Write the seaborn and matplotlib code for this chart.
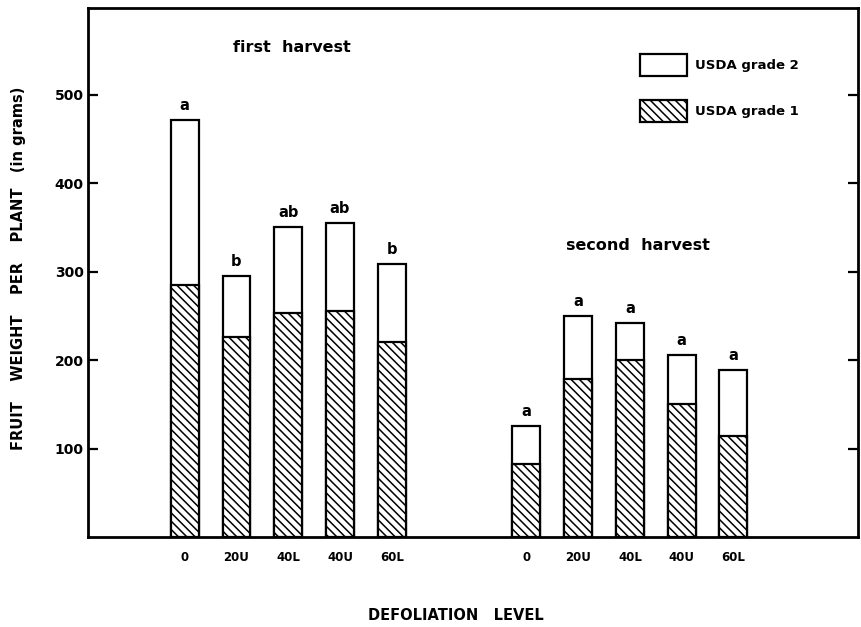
import matplotlib
matplotlib.use("Agg")
import matplotlib.pyplot as plt
from matplotlib.patches import Patch
import seaborn as sns
import pandas as pd

# Defoliation treatments and fruit weight per plant (g)
levels = ["0", "20U", "40L", "40U", "60L"]
first_total = [471, 295, 350, 355, 308]
first_grade1 = [285, 226, 253, 255, 220]
first_letters = ["a", "b", "ab", "ab", "b"]
second_total = [125, 250, 242, 206, 189]
second_grade1 = [83, 179, 200, 150, 114]
second_letters = ["a", "a", "a", "a", "a"]
y_ticks = [100, 200, 300, 400, 500]

# bar positions along the x axis: two harvest groups with a gap between them
first_pos = [0, 1, 2, 3, 4]
second_pos = [6.6, 7.6, 8.6, 9.6, 10.6]

df = pd.DataFrame({
    "pos": first_pos + second_pos,
    "level": levels + levels,
    "total": first_total + second_total,
    "grade1": first_grade1 + second_grade1,
    "letter": first_letters + second_letters,
})

HATCH = chr(92) * 4  # dense down-right diagonal lines

sns.set_style("white")
plt.rcParams["font.family"] = ["DejaVu Sans"]
plt.rcParams["hatch.linewidth"] = 1.1
for key in ["text.color", "axes.labelcolor", "xtick.color", "ytick.color"]:
    plt.rcParams[key] = "black"

fig = plt.figure(figsize=(8.62, 6.27), dpi=100)
ax = fig.add_axes([0.102, 0.1435, 0.893, 0.844])

bar_kw = dict(native_scale=True, width=0.54, saturation=1, color="white",
              edgecolor="black", linewidth=1.6, errorbar=None, ax=ax)
# grade 2 sits on top of grade 1, so draw the full stack first
sns.barplot(data=df, x="pos", y="total", **bar_kw)
sns.barplot(data=df, x="pos", y="grade1", hatch=HATCH, **bar_kw)

for p, t, lab in zip(df["pos"], df["total"], df["letter"]):
    ax.text(p, t + 8, lab, ha="center", va="bottom", fontsize=10.5,
            fontweight="bold")

ax.set_xlim(-1.87, 13.0)
ax.set_ylim(0, 598)
ax.set_yticks(y_ticks)
ax.set_yticklabels([str(v) for v in y_ticks], fontsize=10, fontweight="bold")
ax.tick_params(axis="y", which="both", direction="in", length=7, width=1.6,
               left=True, right=True, pad=3)
ax.set_xticks([])
ax.set_xlabel("")
ax.set_ylabel("")

for p, lab in zip(df["pos"], df["level"]):
    ax.text(p, -16, lab, ha="center", va="top", fontsize=8.5, fontweight="bold")

for side in ["left", "right", "top", "bottom"]:
    ax.spines[side].set_visible(True)
    ax.spines[side].set_linewidth(2.0)
    ax.spines[side].set_color("black")

ax.text(2.07, 553, "first  harvest", ha="center", va="center", fontsize=11.5,
        fontweight="bold")
ax.text(8.75, 329, "second  harvest", ha="center", va="center", fontsize=11.5,
        fontweight="bold")

handles = [
    Patch(facecolor="white", edgecolor="black", linewidth=1.6,
          label="USDA grade 2"),
    Patch(facecolor="white", edgecolor="black", linewidth=1.6, hatch=HATCH,
          label="USDA grade 1"),
]
ax.legend(handles=handles, loc="upper left", bbox_to_anchor=(0.705, 0.93),
          frameon=False, handlelength=3.6, handleheight=2.2, labelspacing=1.8,
          handletextpad=0.6, borderpad=0.2,
          prop={"size": 9.5, "weight": "bold"})

fig.text(0.529, 1 - 616 / 627, "DEFOLIATION   LEVEL", ha="center",
         va="center", fontsize=10.5, fontweight="bold")
fig.text(0.022, 1 - 268 / 627, "FRUIT    WEIGHT    PER    PLANT   (in grams)",
         ha="center", va="center", rotation=90, fontsize=10.5,
         fontweight="bold")

fig.savefig("out.png", dpi=100, facecolor="white")
